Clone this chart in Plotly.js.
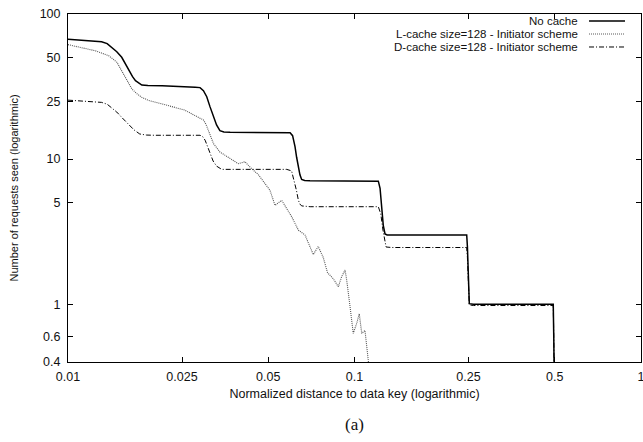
<!DOCTYPE html>
<html>
<head>
<meta charset="utf-8">
<script src="https://cdn.plot.ly/plotly-3.0.1.min.js"></script>
<style>html,body{margin:0;padding:0;background:#fff}#chart{width:643px;height:442px}</style>
</head>
<body>
<div id="chart"></div>
<script>
// ---- data ----
const seriesNames = ["No cache", "L-cache size=128 - Initiator scheme", "D-cache size=128 - Initiator scheme"];

const noCacheX = [0.01, 0.0112, 0.0124, 0.0131, 0.0137, 0.0142, 0.0148, 0.0154, 0.0159, 0.0163, 0.0168, 0.0172, 0.0177, 0.0181, 0.019, 0.0213, 0.0278, 0.0289, 0.0297, 0.0305, 0.0313, 0.0322, 0.033, 0.0339, 0.035, 0.0368, 0.045, 0.0596, 0.0608, 0.0620, 0.0628, 0.0637, 0.0645, 0.0654, 0.067, 0.0699, 0.09, 0.1211, 0.1228, 0.1244, 0.126, 0.1278, 0.13, 0.2, 0.2464, 0.2478, 0.249, 0.2503, 0.2516, 0.26, 0.4, 0.494, 0.496, 0.498];
const noCacheY = [67, 66, 65.2, 64.4, 62.5, 58.9, 55, 50.3, 45, 40.6, 37, 34.7, 33.2, 32.4, 32.1, 32, 31.3, 31.1, 29.6, 26.9, 23, 19.6, 17.2, 15.7, 15.4, 15.3, 15.2, 15.2, 14.5, 12.2, 10.3, 8.85, 7.8, 7.24, 7.12, 7.1, 7.05, 7.05, 6.3, 4.7, 3.5, 3.05, 3.0, 3.0, 3.0, 2.5, 1.7, 1.15, 1.01, 1.0, 1.0, 1.0, 0.6, 0.3];

const lCacheX = [0.01, 0.0112, 0.01245, 0.01387, 0.01483, 0.0153, 0.01585, 0.0163, 0.01672, 0.0174, 0.01813, 0.0191, 0.02017, 0.02307, 0.0255, 0.0278, 0.0297, 0.0303, 0.0309, 0.0316, 0.0322, 0.0339, 0.0368, 0.0393, 0.0415, 0.0432, 0.0462, 0.0494, 0.0507, 0.0528, 0.0557, 0.0604, 0.0637, 0.0672, 0.0699, 0.0718, 0.0747, 0.0778, 0.0805, 0.0843, 0.0878, 0.0902, 0.0927, 0.0939, 0.0965, 0.0990, 0.1018, 0.1039, 0.1060, 0.1088, 0.1117, 0.1135];
const lCacheY = [61.5, 58.5, 55.8, 51.6, 46.4, 41.5, 36.6, 33, 30.4, 28.2, 26.6, 25.4, 24.6, 23, 21.8, 20, 18.6, 17.4, 15.8, 14.1, 12.8, 11.2, 10.1, 9.3, 9.6, 8.8, 7.8, 6.6, 6.1, 4.8, 5.2, 4.0, 3.24, 3.0, 2.48, 2.2, 2.5, 2.1, 1.65, 1.5, 1.32, 1.55, 1.72, 1.47, 0.96, 0.63, 0.74, 0.86, 0.63, 0.66, 0.41, 0.3];

const dCacheX = [0.01, 0.0120, 0.0131, 0.0137, 0.0142, 0.0148, 0.0154, 0.0163, 0.0170, 0.0178, 0.0188, 0.0200, 0.0289, 0.0295, 0.0301, 0.0307, 0.0313, 0.0321, 0.0330, 0.0344, 0.04, 0.058, 0.0603, 0.0611, 0.0627, 0.0637, 0.0645, 0.0654, 0.07, 0.1, 0.1211, 0.1235, 0.1257, 0.1289, 0.135, 0.2, 0.2464, 0.2478, 0.249, 0.2503, 0.2516, 0.26, 0.4, 0.494, 0.496, 0.498];
const dCacheY = [25.5, 25, 24.6, 23.9, 22.7, 21.1, 19.4, 17.4, 15.9, 14.9, 14.65, 14.6, 14.6, 14.3, 13.5, 12.2, 10.9, 9.7, 8.95, 8.5, 8.5, 8.5, 8.3, 7.55, 6.1, 5.2, 4.9, 4.76, 4.7, 4.7, 4.7, 4.2, 3.24, 2.48, 2.46, 2.46, 2.46, 2.1, 1.6, 1.1, 0.99, 0.98, 0.98, 0.98, 0.6, 0.3];

const xTickVals = [0.01, 0.025, 0.05, 0.1, 0.25, 0.5, 1];
const xTickText = ["0.01", "0.025", "0.05", "0.1", "0.25", "0.5", "1"];
const yTickVals = [0.4, 0.6, 1, 5, 10, 25, 50, 100];
const yTickText = ["0.4", "0.6", "1", "5", "10", "25", "50", "100"];

// ---- styles ----
const styles = [
  {color: "#000", width: 1.5, dash: "solid"},
  {color: "#555", width: 1.1, dash: "1px,1px"},
  {color: "#000", width: 1, dash: "5px,2px,1px,2px"}
];
const xs = [noCacheX, lCacheX, dCacheX];
const ys = [noCacheY, lCacheY, dCacheY];

const traces = xs.map((x, i) => ({
  x: x, y: ys[i], type: "scatter", mode: "lines", name: seriesNames[i],
  line: {color: styles[i].color, width: styles[i].width, dash: styles[i].dash, shape: "linear"},
  showlegend: false, hoverinfo: "skip"
}));

const fam = '"Liberation Sans", Arial, sans-serif';
const font = {family: fam, size: 12.5, color: "#111"};
const legFont = {family: fam, size: 11.5, color: "#111"};

// legend drawn gnuplot-style: text then sample
const legendRowsY = [0.9799, 0.9425, 0.9052];
const annotations = seriesNames.map((n, i) => ({
  text: n, xref: "paper", yref: "paper", x: 0.8936, y: legendRowsY[i],
  xanchor: "right", yanchor: "middle", showarrow: false, font: legFont
}));
annotations.push({
  text: "(a)", xref: "paper", yref: "paper", x: 0.5, y: -0.181,
  xanchor: "center", yanchor: "middle", showarrow: false,
  font: {family: '"Liberation Serif", "Times New Roman", serif', size: 17, color: "#111"}
});
const shapes = seriesNames.map((n, i) => ({
  type: "line", xref: "paper", yref: "paper", x0: 0.9093, x1: 0.9721,
  y0: legendRowsY[i], y1: legendRowsY[i],
  line: {color: styles[i].color, width: styles[i].width, dash: styles[i].dash}
}));

const axisCommon = {
  showline: true, linecolor: "#000", linewidth: 1, mirror: "ticks",
  ticks: "inside", ticklen: 5, tickwidth: 1, tickcolor: "#000",
  showgrid: false, zeroline: false, tickfont: font, tickmode: "array",
  ticklabeloverflow: "allow"
};

const layout = {
  width: 643, height: 442,
  margin: {l: 68, r: 2, t: 14, b: 80},
  paper_bgcolor: "#fff", plot_bgcolor: "#fff",
  font: font,
  xaxis: Object.assign({}, axisCommon, {
    type: "log", range: [-2, 0], tickvals: xTickVals, ticktext: xTickText,
    ticklabelstandoff: 3,
    title: {text: "Normalized distance to data key (logarithmic)", font: font, standoff: 6}
  }),
  yaxis: Object.assign({}, axisCommon, {
    type: "log", range: [Math.log10(0.4), 2], tickvals: yTickVals, ticktext: yTickText,
    ticklabelstandoff: 4,
    title: {text: "Number of requests seen (logarithmic)", font: Object.assign({}, font, {size: 11}), standoff: 18}
  }),
  annotations: annotations,
  shapes: shapes
};

Plotly.newPlot("chart", traces, layout, {displayModeBar: false, staticPlot: true});
</script>
</body>
</html>
